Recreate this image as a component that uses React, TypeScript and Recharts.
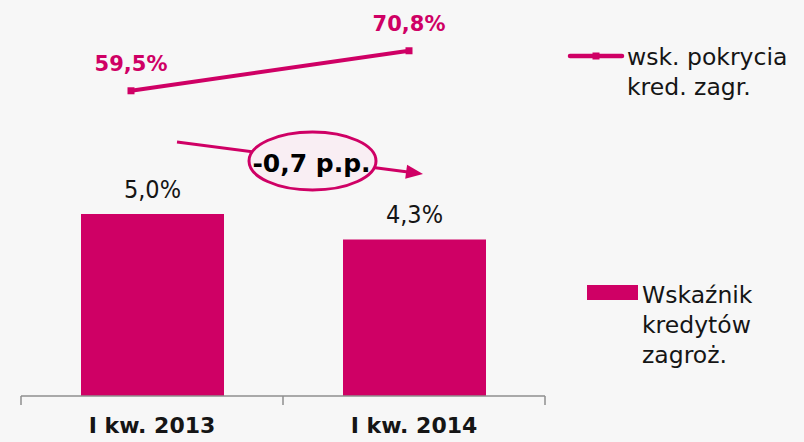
import React from 'react';
import { ComposedChart, Bar, Line, XAxis, YAxis, Legend, LabelList, Customized } from 'recharts';

const categories = ['I kw. 2013', 'I kw. 2014'];
const nplRatio = [5.0, 4.3];
const coverageRatio = [59.5, 70.8];
const barLegendLines = ['Wskaźnik', 'kredytów', 'zagroż.'];
const lineLegendLines = ['wsk. pokrycia', 'kred. zagr.'];
const changeLabel = '-0,7 p.p.';

const data = categories.map((c, i) => ({ cat: c, npl: nplRatio[i], cov: coverageRatio[i] }));

// frame axis spans [0,1]: category boundaries get tick marks, band midpoints carry the labels
const N = categories.length;
const frameTicks: number[] = [];
for (let k = 0; k <= N; k++) {
  frameTicks.push(k / N);
  if (k < N) frameTicks.push((k + 0.5) / N);
}

const PINK = '#CF0065';
const TEXT = '#151515';
const AXIS = '#8f8f8f';
const FONT = "'DejaVu Sans', sans-serif";
const fmt = (v: number) => Number(v).toFixed(1).replace('.', ',') + '%';

const BarLabel = (props: any) => {
  const x = Number(props.x), y = Number(props.y), w = Number(props.width);
  return (
    <text x={x + w / 2} y={y - 16} textAnchor="middle" fontFamily="'DejaVu Sans Condensed', 'DejaVu Sans'" fontSize={25} fill={TEXT}>
      {fmt(props.value)}
    </text>
  );
};

const LineLabel = (props: any) => {
  const x = Number(props.x), y = Number(props.y);
  return (
    <text x={x} y={y - 20} textAnchor="middle" fontWeight="bold" fontSize={21} fill={PINK}>
      {fmt(props.value)}
    </text>
  );
};

const SquareDot = (props: any) => {
  const { cx, cy, index } = props;
  return <rect key={`d${index}`} x={cx - 3.5} y={cy - 3.5} width={7} height={7} fill={PINK} />;
};

const FrameTick = (props: any) => {
  const x = Number(props.x), y = Number(props.y);
  const v = Number(props.payload.value) * N;
  if (Math.abs(v - Math.round(v)) < 1e-6) {
    return <line x1={x} y1={y} x2={x} y2={y + 9} stroke={AXIS} strokeWidth={1.5} />;
  }
  return (
    <text x={x} y={y + 37} textAnchor="middle" fontWeight="bold" fontSize={22} fill={TEXT}>
      {categories[Math.floor(v)]}
    </text>
  );
};

const Annotation = () => (
  <g>
    <line x1={177} y1={142} x2={408} y2={172} stroke={PINK} strokeWidth={3} />
    <polygon points="423,174 407.1,164.8 405.2,178.7" fill={PINK} />
    <ellipse cx={312.5} cy={161} rx={63.5} ry={29} fill="#F9EEF3" stroke={PINK} strokeWidth={3} />
    <text x={311.5} y={172} textAnchor="middle" fontWeight="bold" fontSize={25} fill="#000">
      {changeLabel}
    </text>
  </g>
);

const LegendContent = () => (
  <svg width={804} height={442} style={{ display: 'block', position: 'absolute', left: 0, top: 0 }}>
    <line x1={570} y1={56} x2={622} y2={56} stroke={PINK} strokeWidth={4.5} strokeLinecap="round" />
    <rect x={592.5} y={52.5} width={7} height={7} fill={PINK} />
    {lineLegendLines.map((t, i) => (
      <text key={t} x={627} y={65 + i * 30} fontSize={23.5} fill={TEXT} fontFamily={FONT}>
        {t}
      </text>
    ))}
    <rect x={587} y={285} width={51} height={15} fill={PINK} />
    {barLegendLines.map((t, i) => (
      <text key={t} x={642} y={303 + i * 30} fontSize={23.5} fill={TEXT} fontFamily={FONT}>
        {t}
      </text>
    ))}
  </svg>
);

export default function App() {
  return (
    <div style={{ position: 'absolute', left: 0, top: 0, width: 804, height: 442, background: '#F7F7F7', fontFamily: FONT }}>
      <ComposedChart width={804} height={442} data={data} margin={{ top: 32, right: 259, bottom: 0, left: 21 }}>
        <XAxis dataKey="cat" xAxisId="cat" height={0} hide />
        <XAxis
          xAxisId="frame"
          type="number"
          domain={[0, 1]}
          ticks={frameTicks}
          interval={0}
          height={46}
          axisLine={{ stroke: AXIS, strokeWidth: 1.5 }}
          tickLine={false}
          tickSize={0}
          tickMargin={0}
          tick={<FrameTick />}
          allowDataOverflow
        />
        <XAxis dataKey="cat" xAxisId="pt" scale="point" padding={{ left: 110, right: 136 }} height={0} hide />
        <YAxis yAxisId="bar" domain={[0, 10]} hide allowDataOverflow />
        <YAxis yAxisId="cov" orientation="right" domain={[-26.7, 76.1]} hide allowDataOverflow />
        <Bar dataKey="npl" xAxisId="cat" yAxisId="bar" fill={PINK} barSize={143} isAnimationActive={false}>
          <LabelList dataKey="npl" content={BarLabel} />
        </Bar>
        <Line
          dataKey="cov"
          xAxisId="pt"
          yAxisId="cov"
          stroke={PINK}
          strokeWidth={4}
          dot={(p: any) => <SquareDot key={`dot-${p.index}`} {...p} />}
          activeDot={false}
          isAnimationActive={false}
        >
          <LabelList dataKey="cov" content={LineLabel} />
        </Line>
        <Customized component={Annotation} />
        <Legend verticalAlign="middle" align="center" layout="horizontal" wrapperStyle={{ left: 0, top: 0, width: 804, height: 442 }} content={LegendContent} />
      </ComposedChart>
    </div>
  );
}
